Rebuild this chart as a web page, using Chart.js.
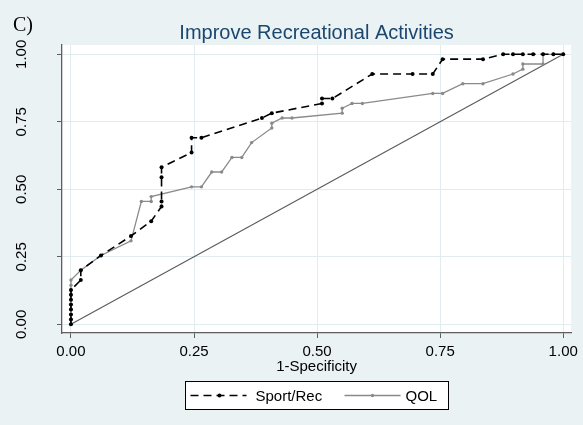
<!DOCTYPE html>
<html>
<head>
<meta charset="utf-8">
<script src="https://cdn.jsdelivr.net/npm/chart.js@4/dist/chart.umd.min.js"></script>
<style>
  html, body { margin: 0; padding: 0; background: #EAF2F3; }
  #wrap { width: 583px; height: 425px; position: relative; }
</style>
</head>
<body>
<div id="wrap"><canvas id="roc"></canvas></div>
<script>
// ROC points (1-specificity, sensitivity)
const sportFpr = [0, 0, 0, 0, 0, 0, 0, 0, 0.020, 0.020, 0.061, 0.122, 0.163, 0.184, 0.184, 0.184, 0.184,
  0.245, 0.245, 0.265, 0.388, 0.408, 0.510, 0.510, 0.531, 0.612, 0.694, 0.735, 0.755, 0.837,
  0.878, 0.898, 0.918, 0.939, 0.959, 0.980, 1.000];
const sportTpr = [0, 0.018, 0.036, 0.055, 0.073, 0.091, 0.109, 0.127, 0.164, 0.200, 0.255, 0.327, 0.382,
  0.436, 0.455, 0.545, 0.582, 0.636, 0.691, 0.691, 0.764, 0.782, 0.818, 0.836, 0.836, 0.927,
  0.927, 0.927, 0.982, 0.982, 1, 1, 1, 1, 1, 1, 1];

const qolFpr = [0, 0, 0, 0, 0, 0, 0, 0, 0, 0, 0.020, 0.061, 0.122, 0.143, 0.163, 0.163, 0.245, 0.265,
  0.286, 0.306, 0.327, 0.347, 0.367, 0.408, 0.408, 0.429, 0.449, 0.551, 0.551, 0.571, 0.592,
  0.735, 0.755, 0.796, 0.837, 0.898, 0.918, 0.918, 0.959, 0.959, 0.980, 1.000];
const qolTpr = [0, 0.018, 0.036, 0.055, 0.073, 0.091, 0.109, 0.127, 0.145, 0.164, 0.200, 0.255, 0.309,
  0.455, 0.455, 0.473, 0.509, 0.509, 0.564, 0.564, 0.618, 0.618, 0.673, 0.727, 0.745, 0.764,
  0.764, 0.782, 0.800, 0.818, 0.818, 0.855, 0.855, 0.891, 0.891, 0.927, 0.945, 0.964, 0.964,
  1, 1, 1];

const refLine = [0, 1];                       // chance diagonal
const axisTicks = [0, 0.25, 0.5, 0.75, 1];
const seriesNames = ['Sport/Rec', 'QOL'];

const FONT = '"Liberation Sans", Arial, sans-serif';
const BG = '#EAF2F3';
const GRID = '#E1ECEF';
const AXIS = '#5E5E5E';
const QOL_GRAY = '#8A8A8A';

const pts = (xs, ys) => xs.map((x, i) => ({ x: x, y: ys[i] }));

// paint the outer region and the white plot region
const panelBg = {
  id: 'panelBg',
  beforeDraw(chart) {
    const { ctx, chartArea: a } = chart;
    ctx.save();
    ctx.fillStyle = BG;
    ctx.fillRect(0, 0, chart.width, chart.height);
    ctx.fillStyle = '#FFFFFF';
    ctx.fillRect(a.left, a.top, a.right - a.left, a.bottom - a.top);
    ctx.restore();
  }
};

// vertical (rotated) y tick labels, the "C)" tag and the boxed legend
const extras = {
  id: 'extras',
  afterDraw(chart) {
    const { ctx, chartArea: a } = chart;
    const ys = chart.scales.y;
    ctx.save();
    ctx.fillStyle = '#000';
    ctx.font = '15px ' + FONT;
    ctx.textAlign = 'center';
    ctx.textBaseline = 'alphabetic';
    axisTicks.forEach(v => {
      ctx.save();
      ctx.translate(26, ys.getPixelForValue(v));
      ctx.rotate(-Math.PI / 2);
      ctx.fillText(v.toFixed(2), 0, 0);
      ctx.restore();
    });

    ctx.font = '20px "Liberation Serif", "Times New Roman", serif';
    ctx.textAlign = 'left';
    ctx.fillText('C)', 13, 31);

    // legend
    const cx = (a.left + a.right) / 2;
    const bw = 263, bh = 28, bx = Math.round(cx - bw / 2) + 0.5, by = 381.5;
    ctx.fillStyle = '#FFFFFF';
    ctx.fillRect(bx, by, bw, bh);
    ctx.strokeStyle = '#000';
    ctx.lineWidth = 1;
    ctx.strokeRect(bx, by, bw, bh);
    const my = by + bh / 2;

    ctx.beginPath();
    ctx.setLineDash([8, 5]);
    ctx.lineWidth = 1.6;
    ctx.moveTo(bx + 5, my); ctx.lineTo(bx + 61, my);
    ctx.stroke();
    ctx.setLineDash([]);
    ctx.fillStyle = '#000';
    ctx.beginPath(); ctx.arc(bx + 34, my, 2, 0, Math.PI * 2); ctx.fill();

    ctx.strokeStyle = QOL_GRAY;
    ctx.lineWidth = 1.3;
    ctx.beginPath();
    ctx.moveTo(bx + 159, my); ctx.lineTo(bx + 215, my);
    ctx.stroke();
    ctx.fillStyle = QOL_GRAY;
    ctx.beginPath(); ctx.arc(bx + 187, my, 1.7, 0, Math.PI * 2); ctx.fill();

    ctx.fillStyle = '#000';
    ctx.font = '15px ' + FONT;
    ctx.textBaseline = 'middle';
    ctx.fillText(seriesNames[0], bx + 70, my + 1);
    ctx.fillText(seriesNames[1], bx + 220, my + 1);
    ctx.restore();
  }
};

const fixTicks = scale => { scale.ticks = axisTicks.map(v => ({ value: v })); };

new Chart(document.getElementById('roc'), {
  type: 'scatter',
  data: {
    datasets: [
      {
        label: seriesNames[0],
        data: pts(sportFpr, sportTpr),
        showLine: true,
        borderColor: '#000',
        backgroundColor: '#000',
        borderWidth: 1.6,
        borderDash: [8, 5],
        pointRadius: 2,
        pointBorderWidth: 0
      },
      {
        label: seriesNames[1],
        data: pts(qolFpr, qolTpr),
        showLine: true,
        borderColor: QOL_GRAY,
        backgroundColor: QOL_GRAY,
        borderWidth: 1.3,
        pointRadius: 1.7,
        pointBorderWidth: 0
      },
      {
        label: 'ref',
        data: pts(refLine, refLine),
        showLine: true,
        borderColor: '#5A5A5A',
        borderWidth: 1.1,
        pointRadius: 0
      }
    ]
  },
  options: {
    responsive: true,
    maintainAspectRatio: false,
    animation: false,
    layout: { padding: { left: 0, right: 10, top: 0, bottom: 49 } },
    plugins: {
      legend: { display: false },
      tooltip: { enabled: false },
      title: {
        display: true,
        text: 'Improve Recreational Activities',
        color: '#1A476F',
        fullSize: false,
        font: { family: FONT, size: 20, weight: 'normal', lineHeight: 1 },
        padding: { top: 23, bottom: 2 }
      }
    },
    scales: {
      x: {
        type: 'linear',
        min: -0.0182, max: 1.0162,
        afterBuildTicks: fixTicks,
        afterFit: s => { s.height = 43; },
        grid: { color: GRID, lineWidth: 1, tickLength: 5, tickColor: AXIS },
        border: { color: AXIS, width: 1.3 },
        ticks: {
          color: '#000', padding: 5, maxRotation: 0,
          font: { family: FONT, size: 15 },
          callback: v => Number(v).toFixed(2)
        },
        title: {
          display: true, text: '1-Specificity', color: '#000',
          font: { family: FONT, size: 15 }, padding: { top: 0, bottom: 0 }
        }
      },
      y: {
        type: 'linear',
        min: -0.0322, max: 1.0344,
        afterBuildTicks: fixTicks,
        afterFit: s => { s.width = 62; },
        grid: { color: GRID, lineWidth: 1, tickLength: 5, tickColor: AXIS },
        border: { color: AXIS, width: 1.3 },
        ticks: { display: false }
      }
    }
  },
  plugins: [panelBg, extras]
});
</script>
</body>
</html>
